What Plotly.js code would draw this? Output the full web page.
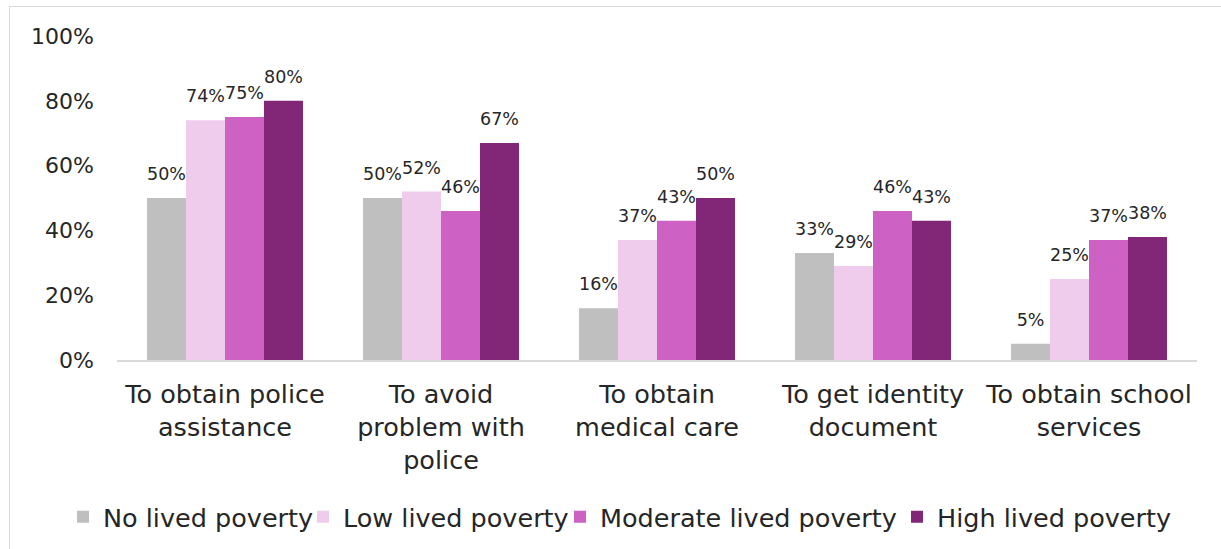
<!DOCTYPE html>
<html>
<head>
<meta charset="utf-8">
<script src="https://cdn.plot.ly/plotly-3.0.1.min.js"></script>
<style>
  html, body { margin: 0; padding: 0; background: #fff; }
  #wrap { position: relative; width: 1221px; height: 549px; overflow: hidden; }
  #chart { position: absolute; left: 0; top: 0; width: 1221px; height: 549px; }
  #frame { position: absolute; left: 9px; top: 6px; width: 1300px; height: 700px;
           border: 1.5px solid #d9d9d9; box-sizing: border-box; pointer-events: none; }
</style>
</head>
<body>
<div id="wrap">
  <div id="chart"></div>
  <div id="frame"></div>
</div>
<script>
const categories = [
  "To obtain police<br>assistance",
  "To avoid<br>problem with<br>police",
  "To obtain<br>medical care",
  "To get identity<br>document",
  "To obtain school<br>services"
];
const seriesNames = ["No lived poverty", "Low lived poverty", "Moderate lived poverty", "High lived poverty"];
const noPoverty       = [0.50, 0.50, 0.16, 0.33, 0.05];
const lowPoverty      = [0.74, 0.52, 0.37, 0.29, 0.25];
const moderatePoverty = [0.75, 0.46, 0.43, 0.46, 0.37];
const highPoverty     = [0.80, 0.67, 0.50, 0.43, 0.38];
const seriesColors = ["#BFBFBF", "#EFCCEB", "#CE61C4", "#822778"];
const yTickVals = [0, 0.2, 0.4, 0.6, 0.8, 1.0];

const FONT = "DejaVu Sans, sans-serif";
const allValues = [noPoverty, lowPoverty, moderatePoverty, highPoverty];
const legendIds = ["legend", "legend2", "legend3", "legend4"];
const legendLefts = [63, 303, 560, 897];   // px, left edge of each legend entry

const traces = allValues.map((vals, i) => ({
  type: "bar",
  name: seriesNames[i],
  legend: legendIds[i],
  x: categories,
  y: vals,
  marker: { color: seriesColors[i] },
  texttemplate: '<span style="font-size:17.5px">%{y:.0%}</span><br> ',
  textposition: "outside",
  constraintext: "none",
  cliponaxis: false,
  textfont: { family: FONT, size: 10, color: "#262626" },
  hoverinfo: "skip"
}));

const layout = {
  width: 1221,
  height: 549,
  margin: { l: 117, r: 24, t: 35.5, b: 188.5 },
  paper_bgcolor: "rgba(0,0,0,0)",
  plot_bgcolor: "rgba(0,0,0,0)",
  barmode: "group",
  bargap: 0.278,
  bargroupgap: 0,
  font: { family: FONT, color: "#262626" },
  xaxis: {
    type: "category",
    showgrid: false,
    showline: true,
    linecolor: "#D9D9D9",
    linewidth: 1.5,
    ticks: "",
    ticklabelstandoff: 11,
    tickfont: { family: FONT, size: 25.5, color: "#262626" },
    zeroline: false
  },
  yaxis: {
    range: [0, 1],
    tickvals: yTickVals,
    tickformat: ".0%",
    showgrid: false,
    showline: false,
    zeroline: false,
    ticks: "",
    ticklabelstandoff: 22,
    tickfont: { family: FONT, size: 22, color: "#262626" }
  },
  showlegend: true
};

legendIds.forEach((id, i) => {
  layout[id] = {
    orientation: "h",
    xref: "container",
    yref: "container",
    x: legendLefts[i] / 1221,
    xanchor: "left",
    y: 0.058,
    yanchor: "middle",
    font: { family: FONT, size: 25.5, color: "#262626" },
    itemwidth: 30,
    bgcolor: "rgba(0,0,0,0)"
  };
});

Plotly.newPlot("chart", traces, layout, { displayModeBar: false, staticPlot: true });
</script>
</body>
</html>
